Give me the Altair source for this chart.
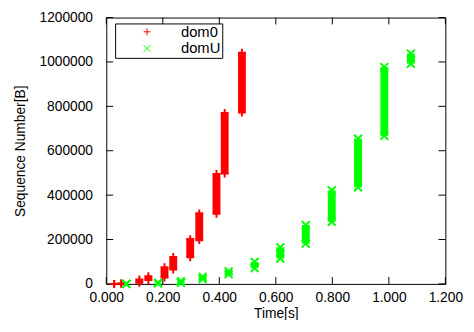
import altair as alt
import pandas as pd

# ---- data ----
series_names = ["dom0", "domU"]
series_colors = ["#ff0000", "#00ff00"]

dom0_time = [0.028, 0.053, 0.117, 0.149, 0.206, 0.237, 0.297, 0.329, 0.390, 0.419, 0.480]
dom0_lo = [0, 0, 5000, 17000, 29000, 65000, 120000, 197000, 316000, 497000, 772000]
dom0_hi = [0, 3000, 20000, 35000, 75000, 121000, 202000, 318000, 495000, 770000, 1042000]

domU_time = [0.071, 0.183, 0.264, 0.341, 0.433, 0.525, 0.616, 0.706, 0.798, 0.891, 0.984, 1.078]
domU_lo = [0, 2000, 5000, 22000, 44000, 71000, 114000, 181000, 280000, 435000, 667000, 992000]
domU_hi = [0, 5000, 12000, 32000, 56000, 99000, 165000, 265000, 421000, 654000, 977000, 1038000]

x_ticks = [0.0, 0.2, 0.4, 0.6, 0.8, 1.0, 1.2]
y_ticks = [0, 200000, 400000, 600000, 800000, 1000000, 1200000]

# ---- tables built from the arrays ----
rows = []
for name, ts, los, his in [("dom0", dom0_time, dom0_lo, dom0_hi),
                           ("domU", domU_time, domU_lo, domU_hi)]:
    for t, lo, hi in zip(ts, los, his):
        rows.append({"series": name, "time": t, "lo": lo, "hi": hi})
bursts = pd.DataFrame(rows)

pts = []
for r in rows:
    pts.append({"series": r["series"], "time": r["time"], "seq": r["lo"]})
    pts.append({"series": r["series"], "time": r["time"], "seq": r["hi"]})
points = pd.DataFrame(pts)

xt = pd.DataFrame({"v": x_ticks})
yt = pd.DataFrame({"v": y_ticks})

W, H = 345, 271
TK = 7
FONT = "Liberation Sans"

xscale = alt.Scale(domain=[0, 1.2], nice=False, zero=False)
yscale = alt.Scale(domain=[0, 1200000], nice=False)
xaxis = alt.Axis(values=x_ticks, format=".3f", title="Time[s]", labelPadding=7,
                 titlePadding=2, labelFlush=False)
yaxis = alt.Axis(values=y_ticks, format="d", title="Sequence Number[B]",
                 labelPadding=14, titlePadding=12)

PLUS = "M-1,0L1,0M0,-1L0,1"
CROSS = "M-1,-1L1,1M1,-1L-1,1"

legend = alt.Legend(title=None, orient="none", legendX=9, legendY=6,
                    strokeColor="black", fillColor="white", padding=1,
                    symbolOffset=24, labelOffset=27, symbolSize=49,
                    symbolStrokeWidth=1, labelFontSize=15, labelFont=FONT,
                    labelColor="black", rowPadding=1, cornerRadius=0)

tick_bottom = alt.Chart(xt).mark_rule(color="black", strokeWidth=1).encode(
    x=alt.X("v:Q", scale=xscale, axis=xaxis), y=alt.value(H), y2=alt.value(H - TK))
tick_top = alt.Chart(xt).mark_rule(color="black", strokeWidth=1).encode(
    x=alt.X("v:Q", scale=xscale, axis=xaxis), y=alt.value(0), y2=alt.value(TK))
tick_left = alt.Chart(yt).mark_rule(color="black", strokeWidth=1).encode(
    y=alt.Y("v:Q", scale=yscale, axis=yaxis), x=alt.value(0), x2=alt.value(TK))
tick_right = alt.Chart(yt).mark_rule(color="black", strokeWidth=1).encode(
    y=alt.Y("v:Q", scale=yscale, axis=yaxis), x=alt.value(W), x2=alt.value(W - TK))

bars = alt.Chart(bursts).mark_rule(strokeWidth=8, strokeCap="butt").encode(
    x=alt.X("time:Q", scale=xscale, axis=xaxis),
    y=alt.Y("lo:Q", scale=yscale, axis=yaxis),
    y2="hi:Q",
    color=alt.Color("series:N", scale=alt.Scale(domain=series_names, range=series_colors),
                    legend=None),
)

marks = alt.Chart(points).mark_point(filled=False, strokeWidth=2, size=64, opacity=1).encode(
    x=alt.X("time:Q", scale=xscale, axis=xaxis),
    y=alt.Y("seq:Q", scale=yscale, axis=yaxis),
    color=alt.Color("series:N", scale=alt.Scale(domain=series_names, range=series_colors),
                    legend=legend),
    shape=alt.Shape("series:N", scale=alt.Scale(domain=series_names, range=[PLUS, CROSS]),
                    legend=legend),
)

chart = alt.layer(tick_bottom, tick_top, tick_left, tick_right, bars, marks).resolve_scale(
    color="independent", shape="independent"
).properties(
    width=W, height=H,
    autosize=alt.AutoSizeParams(type="none"),
    padding={"left": 100, "top": 7, "right": 21, "bottom": 34},
    background="white",
).configure_view(stroke="black", strokeWidth=1).configure_axis(
    labelFont=FONT, titleFont=FONT, labelFontSize=14, titleFontSize=14,
    titleFontWeight="normal", labelColor="black", titleColor="black",
    grid=False, ticks=False, domain=False,
)

chart.save("out.html", embed_options={"renderer": "svg", "actions": False})
